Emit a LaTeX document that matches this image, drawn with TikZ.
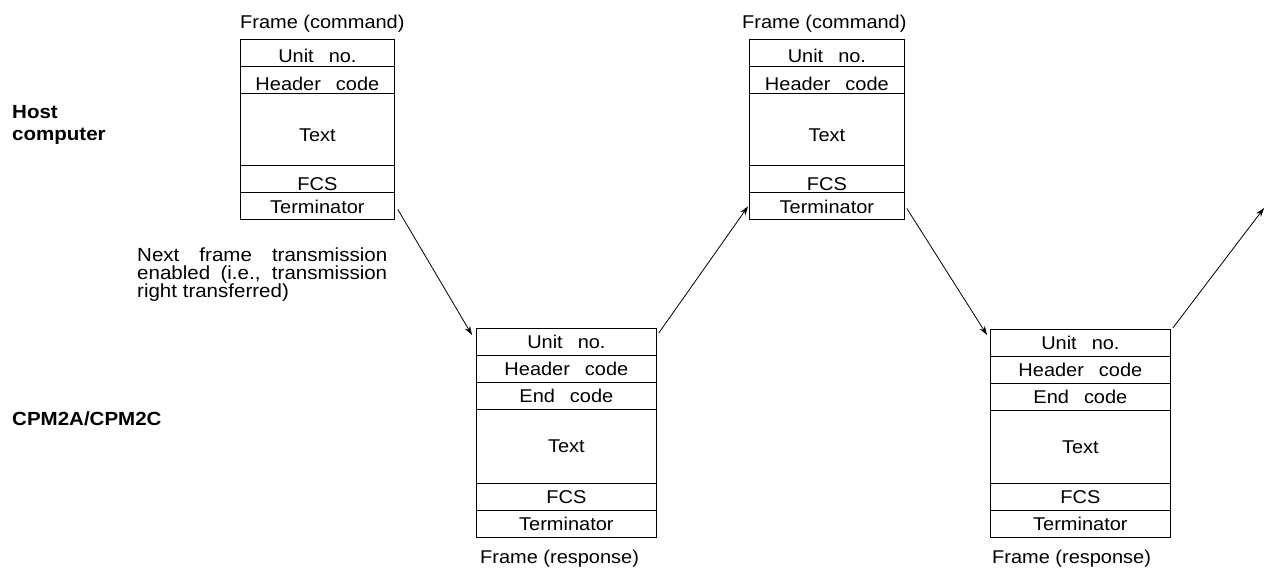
\documentclass[tikz,border=0pt]{standalone}
\usepackage{fontspec}
\setmainfont{Liberation Sans}[FakeStretch=1.08]
\usetikzlibrary{arrows.meta}
\newcommand\rowfont{\fontsize{18.5}{21}\selectfont}
\newcommand\notefont{\fontsize{19}{18}\selectfont}
\newcommand\sidefont{\fontsize{19}{22}\selectfont\bfseries}
\newcommand\gp{\hspace{15pt}}
\begin{document}
\begin{tikzpicture}[x=1pt,y=-1pt,
  row/.style={draw, line width=0.8pt, inner sep=0pt, anchor=north west, font=\rowfont},
  cmdrow/.style={row, minimum width=154pt, text depth=0pt},
  resrow/.style={row, minimum width=180pt},
  framecap/.style={inner sep=0pt, font=\rowfont},
  side/.style={inner sep=0pt, font=\sidefont, align=left},
  link/.style={line width=0.8pt, -{Stealth[length=9pt,width=6pt]}}]
\useasboundingbox (0,0) rectangle (1265,572);

% Side labels
\node[side, anchor=north west] (host) at (12,105) {Host\\computer};
\node[side, anchor=base west] (cpm) at (12,425) {CPM2A/CPM2C};

% Command frame 1
\node[framecap, anchor=base west] (c1cap) at (240,29) {Frame (command)};
\node[cmdrow, minimum height=27pt, text height=19pt] (c1u) at (240,39) {Unit\gp no.};
\node[cmdrow, minimum height=27pt, text height=21pt] (c1h) at (240,66) {Header\gp code};
\node[cmdrow, minimum height=72pt, text height=25pt] (c1x) at (240,93) {Text};
\node[cmdrow, minimum height=27pt, text height=23pt] (c1f) at (240,165) {FCS};
\node[cmdrow, minimum height=27pt, text height=15pt] (c1t) at (240,192) {Terminator};

% Command frame 2
\node[framecap, anchor=base west] (c2cap) at (742,29) {Frame (command)};
\node[cmdrow, minimum width=155pt, minimum height=27pt, text height=19pt] (c2u) at (749,39) {Unit\gp no.};
\node[cmdrow, minimum width=155pt, minimum height=27pt, text height=21pt] (c2h) at (749,66) {Header\gp code};
\node[cmdrow, minimum width=155pt, minimum height=72pt, text height=25pt] (c2x) at (749,93) {Text};
\node[cmdrow, minimum width=155pt, minimum height=27pt, text height=23pt] (c2f) at (749,165) {FCS};
\node[cmdrow, minimum width=155pt, minimum height=27pt, text height=15pt] (c2t) at (749,192) {Terminator};

% Response frame 1
\node[resrow, minimum height=27pt] (r1u) at (476,328) {Unit\gp no.};
\node[resrow, minimum height=27pt] (r1h) at (476,355) {Header\gp code};
\node[resrow, minimum height=27pt] (r1e) at (476,382) {End\gp code};
\node[resrow, minimum height=74pt] (r1x) at (476,409) {Text};
\node[resrow, minimum height=27pt] (r1f) at (476,483) {FCS};
\node[resrow, minimum height=27pt] (r1t) at (476,510) {Terminator};
\node[framecap, anchor=base west] (r1cap) at (480,563) {Frame (response)};

% Response frame 2
\node[resrow, minimum height=27pt] (r2u) at (990,329) {Unit\gp no.};
\node[resrow, minimum height=27pt] (r2h) at (990,356) {Header\gp code};
\node[resrow, minimum height=27pt] (r2e) at (990,383) {End\gp code};
\node[resrow, minimum height=73pt] (r2x) at (990,410) {Text};
\node[resrow, minimum height=27pt] (r2f) at (990,483) {FCS};
\node[resrow, minimum height=27pt] (r2t) at (990,510) {Terminator};
\node[framecap, anchor=base west] (r2cap) at (992,563) {Frame (response)};

% Note
\node[inner sep=0pt, anchor=north west, font=\notefont, align=left] (note) at (137,248)
  {\lineskiplimit=-10pt\makebox[250pt][s]{Next frame transmission}\\
   \makebox[250pt][s]{enabled (i.e., transmission}\\
   right transferred)};

% Connectors
\coordinate (out) at (1264,208);
\draw[link] ([xshift=3pt,yshift=-3.5pt]c1t.east) -- ([xshift=-4pt,yshift=-7pt]r1u.north west);
\draw[link] ([xshift=2pt,yshift=-5pt]r1u.north east) -- ([xshift=-1pt,yshift=-0.5pt]c2t.west);
\draw[link] ([xshift=2pt,yshift=-2.5pt]c2t.east) -- ([xshift=-3pt,yshift=-6pt]r2u.north west);
\draw[link] ([xshift=2pt,yshift=1pt]r2u.north east) -- (out);
\end{tikzpicture}
\end{document}
